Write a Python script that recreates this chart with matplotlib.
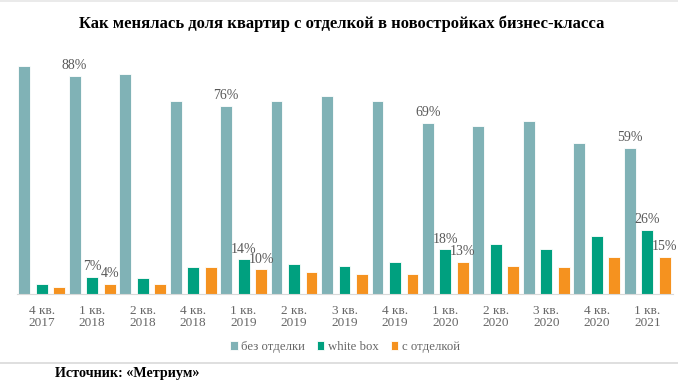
import matplotlib
matplotlib.use("Agg")
import matplotlib.pyplot as plt
import numpy as np

categories = ["4 кв.\n2017", "1 кв.\n2018", "2 кв.\n2018", "4 кв.\n2018", "1 кв.\n2019",
              "2 кв.\n2019", "3 кв.\n2019", "4 кв.\n2019", "1 кв.\n2020", "2 кв.\n2020",
              "3 кв.\n2020", "4 кв.\n2020", "1 кв.\n2021"]
bez_otdelki = [92, 88, 89, 78, 76, 78, 80, 78, 69, 68, 70, 61, 59]
white_box = [4, 7, 6.5, 11, 14, 12, 11.5, 13, 18, 20, 18, 23.5, 26]
s_otdelkoy = [3, 4, 4, 11, 10, 9, 8, 8, 13, 11.5, 11, 15, 15]
series_names = ["без отделки", "white box", "с отделкой"]
labeled_groups = [1, 4, 8, 12]

colors = ["#80B2B6", "#00A07F", "#F5921F"]
serif = ["Liberation Serif", "DejaVu Serif"]

fig = plt.figure(figsize=(6.78, 3.89), dpi=100)
ax = fig.add_axes([16.5 / 678, (389 - 294) / 389, 656 / 678, 247.7 / 389])

x = np.arange(len(categories))
w = 0.235
off = 0.347
data = [bez_otdelki, white_box, s_otdelkoy]
for i, (vals, c, name) in enumerate(zip(data, colors, series_names)):
    ax.bar(x + (i - 1) * off, vals, w, color=c, edgecolor="white", linewidth=0.6, label=name)
    for g in labeled_groups:
        ax.text(x[g] + (i - 1) * off, vals[g] + 1.5, f"{vals[g]:g}%", ha="center", va="bottom",
                fontsize=10, color="#595959", family=serif)

ax.set_xlim(-0.5, len(categories) - 0.5)
ax.set_ylim(0, 100)
ax.set_yticks([])
ax.set_xticks(x)
ax.set_xticklabels(categories, family=serif, fontsize=9.5, color="#666666", linespacing=1.0)
ax.tick_params(axis="x", length=0, pad=8)
for s in ["top", "left", "right"]:
    ax.spines[s].set_visible(False)
ax.spines["bottom"].set_color("#D9D9D9")

fig.text(342 / 678, 1 - 24 / 389, "Как менялась доля квартир с отделкой в новостройках бизнес-класса",
         ha="center", va="center", fontsize=12, fontweight="bold", family=serif, color="black")

fig.legend(loc="center", bbox_to_anchor=(345 / 678, 1 - 347 / 389), ncol=3, frameon=False,
           prop={"family": serif, "size": 9.2}, handlelength=0.6, handleheight=0.6,
           handletextpad=0.3, columnspacing=0.9, labelcolor="#666666")

fig.add_artist(plt.Line2D([0, 1], [1 - 363 / 389] * 2, color="#D9D9D9", lw=1.2, transform=fig.transFigure))
fig.add_artist(plt.Line2D([0, 1], [1 - 0.5 / 389] * 2, color="#E6E6E6", lw=1.2, transform=fig.transFigure))

fig.text(55 / 678, 1 - 373 / 389, "Источник: «Метриум»", ha="left", va="center", fontsize=10.2,
         fontweight="bold", family=serif, color="black")

fig.savefig("out.png", dpi=100)
